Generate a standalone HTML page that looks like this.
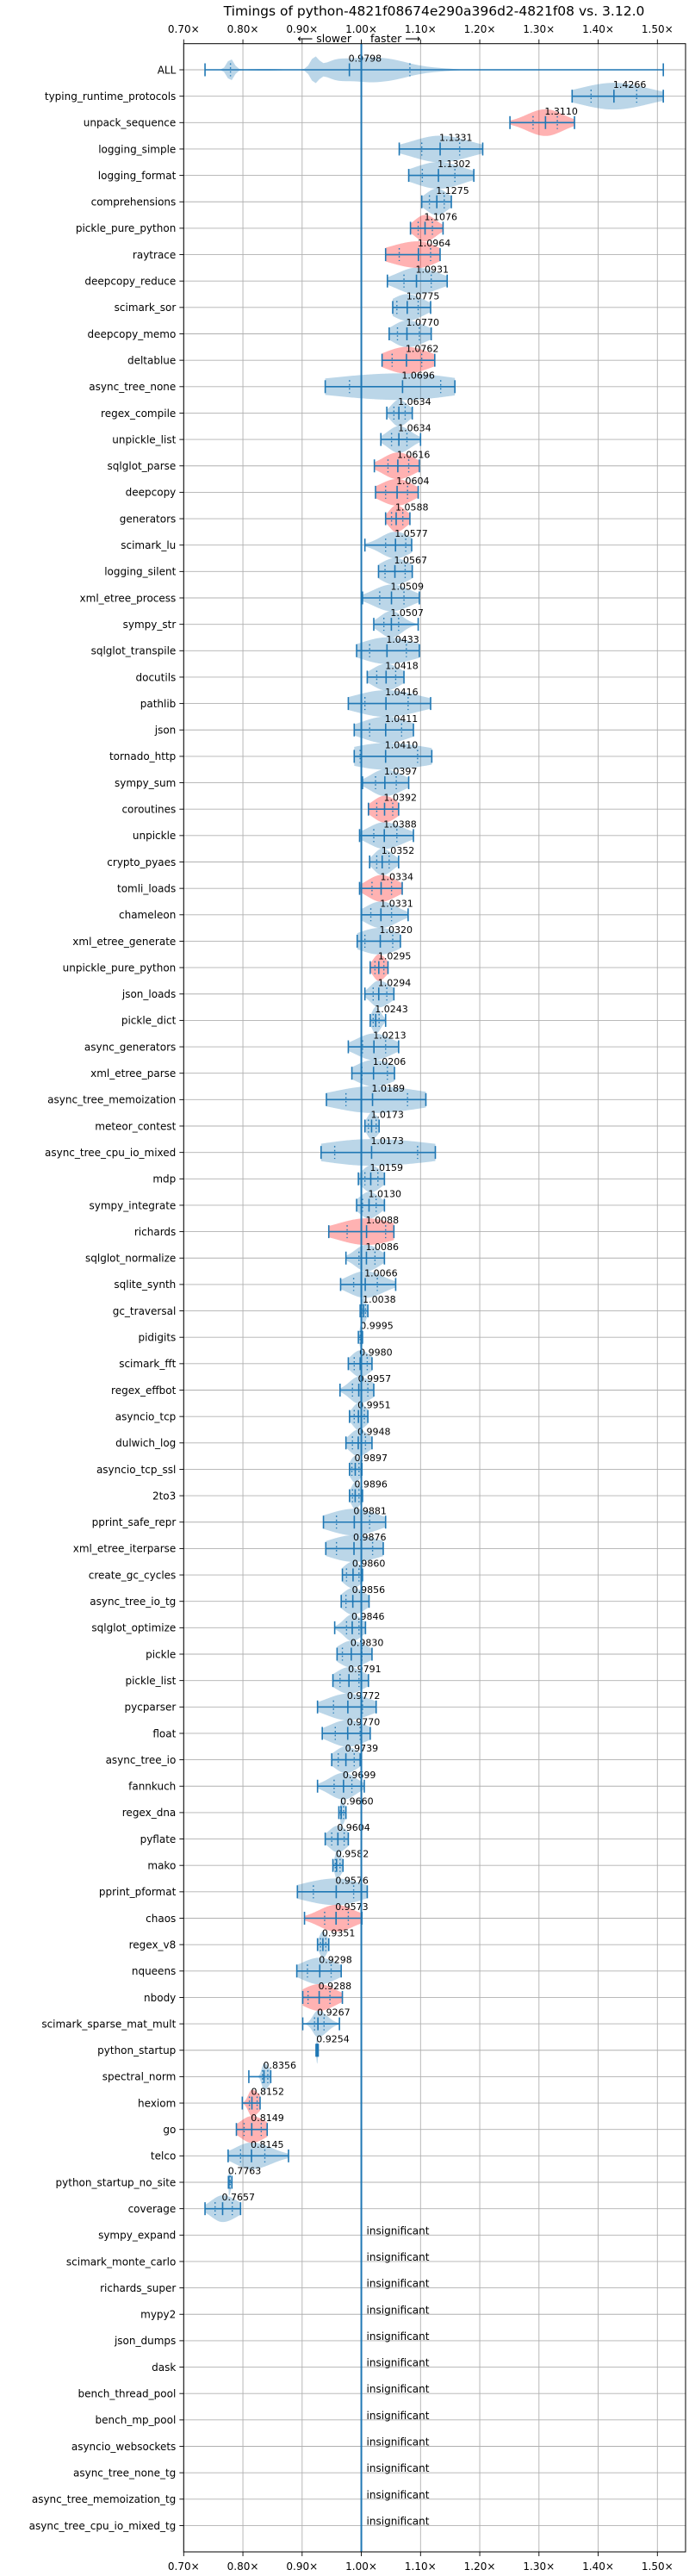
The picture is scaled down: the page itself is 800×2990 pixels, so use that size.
<!DOCTYPE html>
<html><head><meta charset="utf-8"><title>Timings</title>
<style>
html,body{margin:0;padding:0;background:#fff;}
svg{display:block;font-family:"DejaVu Sans","Liberation Sans",sans-serif;}
</style></head>
<body>
<svg id="chart" xmlns="http://www.w3.org/2000/svg" width="800" height="2990" viewBox="0 0 800 2990">
<rect x="0" y="0" width="800" height="2990" fill="#fff"/>
<text x="504" y="18" font-size="15.5" text-anchor="middle" fill="#000">Timings of python-4821f08674e290a396d2-4821f08 vs. 3.12.0</text>
<text x="408" y="49" font-size="12.5" text-anchor="end" fill="#000">⟵ slower</text>
<text x="430" y="49" font-size="12.5" text-anchor="start" fill="#000">faster ⟶</text>
<g id="grid"></g>
<g id="marks"></g>
<g id="axes"></g>
</svg>
<script>
const labels = ["ALL","typing_runtime_protocols","unpack_sequence","logging_simple","logging_format","comprehensions","pickle_pure_python","raytrace","deepcopy_reduce","scimark_sor","deepcopy_memo","deltablue","async_tree_none","regex_compile","unpickle_list","sqlglot_parse","deepcopy","generators","scimark_lu","logging_silent","xml_etree_process","sympy_str","sqlglot_transpile","docutils","pathlib","json","tornado_http","sympy_sum","coroutines","unpickle","crypto_pyaes","tomli_loads","chameleon","xml_etree_generate","unpickle_pure_python","json_loads","pickle_dict","async_generators","xml_etree_parse","async_tree_memoization","meteor_contest","async_tree_cpu_io_mixed","mdp","sympy_integrate","richards","sqlglot_normalize","sqlite_synth","gc_traversal","pidigits","scimark_fft","regex_effbot","asyncio_tcp","dulwich_log","asyncio_tcp_ssl","2to3","pprint_safe_repr","xml_etree_iterparse","create_gc_cycles","async_tree_io_tg","sqlglot_optimize","pickle","pickle_list","pycparser","float","async_tree_io","fannkuch","regex_dna","pyflate","mako","pprint_pformat","chaos","regex_v8","nqueens","nbody","scimark_sparse_mat_mult","python_startup","spectral_norm","hexiom","go","telco","python_startup_no_site","coverage","sympy_expand","scimark_monte_carlo","richards_super","mypy2","json_dumps","dask","bench_thread_pool","bench_mp_pool","asyncio_websockets","async_tree_none_tg","async_tree_memoization_tg","async_tree_cpu_io_mixed_tg"];
const mins = [0.736,1.356,1.251,1.064,1.080,1.102,1.083,1.041,1.044,1.053,1.047,1.035,0.939,1.043,1.033,1.022,1.024,1.041,1.006,1.029,1.002,1.021,0.992,1.010,0.978,0.988,0.988,1.002,1.012,0.997,1.014,0.997,1.000,0.993,1.015,1.006,1.015,0.978,0.984,0.941,1.006,0.932,0.995,0.992,0.945,0.974,0.965,0.998,0.995,0.978,0.964,0.980,0.974,0.980,0.980,0.936,0.940,0.968,0.966,0.955,0.959,0.952,0.926,0.934,0.950,0.926,0.962,0.939,0.952,0.892,0.904,0.926,0.891,0.901,0.901,0.9235,0.810,0.799,0.789,0.775,0.7755,0.736];
const q1s = [0.779,1.388,1.290,1.102,1.103,1.115,1.096,1.064,1.072,1.060,1.061,1.052,0.980,1.055,1.051,1.045,1.041,1.051,1.041,1.040,1.031,1.038,1.014,1.026,1.006,1.014,0.998,1.024,1.026,1.021,1.026,1.018,1.016,1.006,1.023,1.020,1.020,1.002,1.001,0.974,1.012,0.955,1.006,1.002,0.976,0.996,0.987,1.001,0.998,0.988,0.985,0.988,0.985,0.984,0.985,0.958,0.958,0.975,0.974,0.975,0.968,0.964,0.953,0.956,0.961,0.954,0.965,0.950,0.956,0.919,0.938,0.931,0.909,0.910,0.921,0.9245,0.833,0.811,0.802,0.796,0.776,0.753];
const meds = [0.9798,1.4266,1.3110,1.1331,1.1302,1.1275,1.1076,1.0964,1.0931,1.0775,1.0770,1.0762,1.0696,1.0634,1.0634,1.0616,1.0604,1.0588,1.0577,1.0567,1.0509,1.0507,1.0433,1.0418,1.0416,1.0411,1.0410,1.0397,1.0392,1.0388,1.0352,1.0334,1.0331,1.0320,1.0295,1.0294,1.0243,1.0213,1.0206,1.0189,1.0173,1.0173,1.0159,1.0130,1.0088,1.0086,1.0066,1.0038,0.9995,0.9980,0.9957,0.9951,0.9948,0.9897,0.9896,0.9881,0.9876,0.9860,0.9856,0.9846,0.9830,0.9791,0.9772,0.9770,0.9739,0.9699,0.9660,0.9604,0.9582,0.9576,0.9573,0.9351,0.9298,0.9288,0.9267,0.9254,0.8356,0.8152,0.8149,0.8145,0.7763,0.7657];
const q3s = [1.082,1.465,1.331,1.166,1.158,1.140,1.120,1.117,1.118,1.096,1.098,1.102,1.134,1.074,1.077,1.080,1.078,1.070,1.075,1.074,1.072,1.063,1.076,1.058,1.079,1.068,1.095,1.059,1.053,1.060,1.047,1.051,1.051,1.053,1.038,1.043,1.030,1.041,1.044,1.078,1.025,1.095,1.028,1.025,1.041,1.023,1.027,1.007,1.001,1.010,1.011,1.005,1.007,0.996,0.996,1.014,1.019,0.996,1.000,0.996,1.001,0.996,1.002,0.998,0.988,0.984,0.970,0.971,0.964,0.987,0.978,0.940,0.949,0.947,0.937,0.9262,0.842,0.824,0.831,0.837,0.7785,0.782];
const maxs = [1.510,1.510,1.360,1.205,1.190,1.152,1.138,1.133,1.145,1.117,1.118,1.124,1.158,1.086,1.100,1.098,1.096,1.082,1.085,1.086,1.098,1.096,1.098,1.072,1.117,1.088,1.119,1.080,1.063,1.088,1.063,1.069,1.079,1.066,1.045,1.055,1.041,1.063,1.056,1.109,1.030,1.125,1.039,1.039,1.055,1.039,1.058,1.011,1.002,1.018,1.021,1.011,1.018,1.001,1.002,1.041,1.037,1.002,1.013,1.007,1.018,1.012,1.025,1.015,0.998,1.005,0.974,0.978,0.969,1.010,1.001,0.945,0.966,0.968,0.963,0.9272,0.847,0.829,0.841,0.877,0.7815,0.796];
const slowerBenchmarks = ["unpack_sequence","pickle_pure_python","raytrace","deltablue","sqlglot_parse","deepcopy","generators","coroutines","tomli_loads","unpickle_pure_python","richards","chaos","nbody","hexiom","go"];
const allModeCenters = [0.779,0.835,0.921,0.955,1.005,1.06,1.12];
const allModeSpreads = [0.006,0.03,0.007,0.02,0.035,0.03,0.03];
const allModeWeights = [0.95,0.08,1.0,0.55,0.95,0.55,0.15];
const xTicks = [0.7,0.8,0.9,1.0,1.1,1.2,1.3,1.4,1.5];

const NS = "http://www.w3.org/2000/svg";
const PL = 213.3, PR = 796, PT = 50.7, PB = 2962;
const X0 = 0.7, XS = 687.5, ROW0 = 81, ROWH = 30.65, HALF = 15.5;
function xs(v){ return PL + (v - X0) * XS; }
function ys(i){ return ROW0 + i * ROWH; }
function mk(tag, attrs, parent){ const e = document.createElementNS(NS, tag); for (const k in attrs) e.setAttribute(k, attrs[k]); parent.appendChild(e); return e; }

const grid = document.getElementById('grid');
const marks = document.getElementById('marks');
const axes = document.getElementById('axes');

// vertical grid + tick labels
xTicks.forEach(function(t){
  const g = mk('line', {x1: xs(t), x2: xs(t), y1: PT, y2: PB, stroke: '#b0b0b0', 'stroke-width': 0.9}, grid);
  
  
  const tt = mk('line', {x1: xs(t), x2: xs(t), y1: PT - 5, y2: PT, stroke: '#000', 'stroke-width': 0.9}, axes);
  
  
  const tb = mk('line', {x1: xs(t), x2: xs(t), y1: PB, y2: PB + 5, stroke: '#000', 'stroke-width': 0.9}, axes);
  
  
  const l1 = mk('text', {x: xs(t), y: 38, 'font-size': 12, 'text-anchor': 'middle', fill: '#000'}, axes);
  l1.textContent = t.toFixed(2) + '×';
  
  
  const l2 = mk('text', {x: xs(t), y: 2983, 'font-size': 12, 'text-anchor': 'middle', fill: '#000'}, axes);
  l2.textContent = t.toFixed(2) + '×';
  
  
});

// rows
labels.forEach(function(name, i){
  const y = ys(i);
  const gl = mk('line', {x1: PL, x2: PR, y1: y, y2: y, stroke: '#b0b0b0', 'stroke-width': 0.9}, grid);
  
  
  const tk = mk('line', {x1: PL - 5, x2: PL, y1: y, y2: y, stroke: '#000', 'stroke-width': 0.9}, axes);
  
  
  const lb = mk('text', {x: PL - 9, y: y + 4.3, 'font-size': 12, 'text-anchor': 'end', fill: '#000'}, axes);
  lb.textContent = name;
  
  
});

function density(i, v){
  if (i === 0) {
    let s = 0;
    for (let k = 0; k < allModeCenters.length; k++) {
      const d = (v - allModeCenters[k]) / allModeSpreads[k];
      s += allModeWeights[k] * Math.exp(-0.5 * d * d);
    }
    return s;
  }
  const m = meds[i];
  const sl = Math.max((m - q1s[i]) / 0.674, 1e-4);
  const sr = Math.max((q3s[i] - m) / 0.674, 1e-4);
  const d = (v - m) / (v < m ? sl : sr);
  return Math.exp(-0.5 * d * d);
}

meds.forEach(function(m, i){
  const y = ys(i);
  const lo = mins[i], hi = maxs[i];
  const N = 120;
  const vals = [];
  let peak = 0;
  for (let k = 0; k <= N; k++) {
    const v = lo + (hi - lo) * k / N;
    const d = density(i, v);
    vals.push([v, d]);
    if (d > peak) peak = d;
  }
  let top = '', bot = '';
  vals.forEach(function(p, k){
    const h = HALF * p[1] / peak;
    top += (k ? 'L' : 'M') + xs(p[0]).toFixed(2) + ',' + (y - h).toFixed(2);
  });
  for (let k = vals.length - 1; k >= 0; k--) {
    const h = HALF * vals[k][1] / peak;
    bot += 'L' + xs(vals[k][0]).toFixed(2) + ',' + (y + h).toFixed(2);
  }
  const red = slowerBenchmarks.indexOf(labels[i]) >= 0;
  const body = mk('path', {d: top + bot + 'Z', fill: red ? '#ff0000' : '#1f77b4', 'fill-opacity': 0.3, stroke: 'none'}, marks);
  
  
  const wh = mk('line', {x1: xs(lo), x2: xs(hi), y1: y, y2: y, stroke: '#1f77b4', 'stroke-width': 1.6}, marks);
  
  
  [lo, hi, m].forEach(function(v){
    const c = mk('line', {x1: xs(v), x2: xs(v), y1: y - 7.5, y2: y + 7.5, stroke: '#1f77b4', 'stroke-width': 1.6}, marks);
    
    
  });
  [q1s[i], q3s[i]].forEach(function(v){
    const q = mk('line', {x1: xs(v), x2: xs(v), y1: y - 7.5, y2: y + 7.5, stroke: '#1f77b4', 'stroke-width': 1.4, 'stroke-dasharray': '1.6,3'}, marks);
    
    
  });
  const t = mk('text', {x: xs(m) - 1, y: y - 9.5, 'font-size': 11, fill: '#000'}, marks);
  t.textContent = m.toFixed(4);
  
  
});

// insignificant rows
for (let i = meds.length; i < labels.length; i++) {
  const t = mk('text', {x: xs(1.0) + 6, y: ys(i) - 1, 'font-size': 12, fill: '#000'}, marks);
  t.textContent = 'insignificant';
  
  
}

// baseline at 1.0
const base = mk('line', {x1: xs(1.0), x2: xs(1.0), y1: PT, y2: PB, stroke: '#1f77b4', 'stroke-width': 2}, marks);



const frame = mk('rect', {x: PL, y: PT, width: PR - PL, height: PB - PT, fill: 'none', stroke: '#000', 'stroke-width': 1}, axes);


</script>
</body></html>
